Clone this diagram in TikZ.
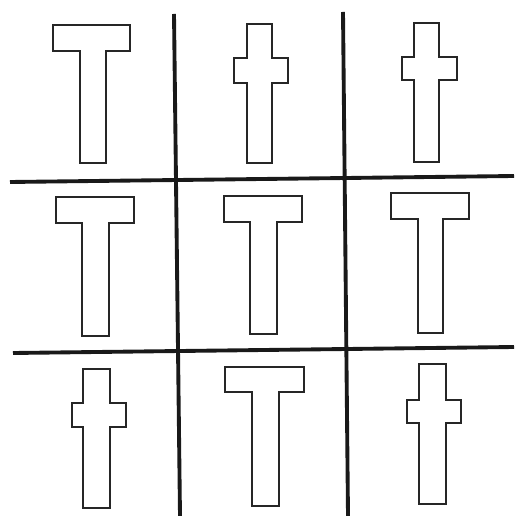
\documentclass[tikz,border=0pt]{standalone}
\usepackage{tikz}

\begin{document}
\begin{tikzpicture}[
  x=0.02cm, y=-0.02cm,
  gridline/.style={line width=2.2pt,black!90},
  outline/.style={draw=black!85,line width=1.5pt,line join=miter,fill=white}
]
\useasboundingbox (0,0) rectangle (514,516);

%% Grid lines
\draw[gridline] (174,14)  -- (180,516);
\draw[gridline] (343,12)  -- (348,516);
\draw[gridline] (10,182)  -- (514,176);
\draw[gridline] (13,353)  -- (514,347);

%% Row 1: T, cross, cross
\draw[outline] (53,25) -- (130,25) -- (130,51) -- (106,51) -- (106,163)
  -- (80,163) -- (80,51) -- (53,51) -- cycle;
\draw[outline] (247,24) -- (272,24) -- (272,58) -- (288,58) -- (288,83)
  -- (272,83) -- (272,163) -- (247,163) -- (247,83) -- (234,83)
  -- (234,58) -- (247,58) -- cycle;
\draw[outline] (414,23) -- (439,23) -- (439,57) -- (457,57) -- (457,80)
  -- (439,80) -- (439,162) -- (414,162) -- (414,80) -- (402,80)
  -- (402,57) -- (414,57) -- cycle;

%% Row 2: three Ts
\draw[outline] (56,197) -- (134,197) -- (134,223) -- (109,223) -- (109,336)
  -- (82,336) -- (82,223) -- (56,223) -- cycle;
\draw[outline] (224,196) -- (302,196) -- (302,222) -- (277,222) -- (277,334)
  -- (250,334) -- (250,222) -- (224,222) -- cycle;
\draw[outline] (391,193) -- (469,193) -- (469,219) -- (443,219) -- (443,333)
  -- (418,333) -- (418,219) -- (391,219) -- cycle;

%% Row 3: cross, T, cross
\draw[outline] (83,369) -- (110,369) -- (110,403) -- (126,403) -- (126,427)
  -- (110,427) -- (110,508) -- (83,508) -- (83,427) -- (72,427)
  -- (72,403) -- (83,403) -- cycle;
\draw[outline] (225,367) -- (304,367) -- (304,392) -- (279,392) -- (279,506)
  -- (252,506) -- (252,392) -- (225,392) -- cycle;
\draw[outline] (419,364) -- (446,364) -- (446,400) -- (461,400) -- (461,423)
  -- (446,423) -- (446,504) -- (419,504) -- (419,423) -- (407,423)
  -- (407,400) -- (419,400) -- cycle;

\end{tikzpicture}
\end{document}
